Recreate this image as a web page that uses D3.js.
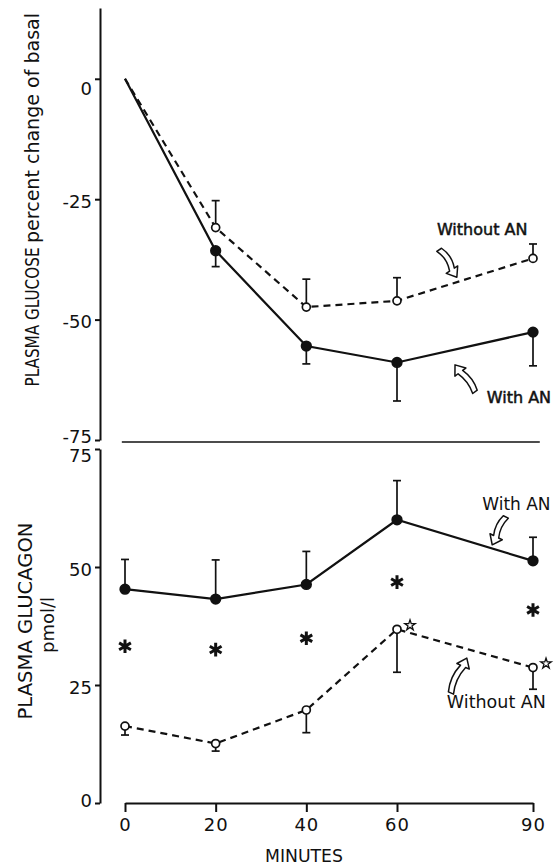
<!DOCTYPE html>
<html>
<head>
<meta charset="utf-8">
<script src="https://cdn.jsdelivr.net/npm/d3@7"></script>
<style>
  html, body { margin: 0; padding: 0; background: #fff; }
  svg text { font-family: 'DejaVu Sans', sans-serif; fill: #111; }
</style>
</head>
<body>
<div class="chart"></div>
<script>
// time points (minutes)
const minutes = [0, 20, 40, 60, 90];

// plasma glucose, percent change of basal
const glucoseWithout = [0, -30.9, -47.4, -46.1, -37.3];
const glucoseWithoutErr = [0, 5.6, 5.8, 4.8, 3.0];
const glucoseWith = [0, -35.7, -55.5, -58.9, -52.6];
const glucoseWithErr = [0, 3.3, 3.7, 8.0, 7.0];

// plasma glucagon, pmol/l
const glucagonWith = [45.3, 43.2, 46.3, 60.0, 51.3];
const glucagonWithErr = [6.3, 8.3, 7.0, 8.3, 5.0];
const glucagonWithout = [16.3, 12.6, 19.7, 36.8, 28.7];
const glucagonWithoutErr = [1.9, 1.6, 4.8, 9.1, 4.6];

// significance marks
const asteriskValues = [33.2, 32.5, 34.9, 46.8, 40.9];
const starMinutes = [60, 90];

const glucoseTicks = [0, -25, -50, -75];
const glucagonTicks = [0, 25, 50, 75];

const width = 555;
const height = 867;

const svg = d3
  .select('.chart')
  .append('svg')
  .attr('width', width)
  .attr('height', height);

const x = d3.scaleLinear().domain([0, 90]).range([125, 533]);
const yTop = d3.scaleLinear().domain([-75, 14.7]).range([440, 8]);
const yBot = d3.scaleLinear().domain([0, 75]).range([803, 449]);

// ---- axes ----
const styleAxis = (g, size) => {
  g.select('.domain').attr('stroke', '#111').attr('stroke-width', 2);
  g.selectAll('.tick line').attr('stroke', '#111').attr('stroke-width', 2);
  g.selectAll('.tick text')
    .style('font-family', "'DejaVu Sans', sans-serif")
    .style('font-size', size)
    .attr('fill', '#111');
};

svg
  .append('g')
  .attr('transform', 'translate(100,0)')
  .call(
    d3.axisLeft(yTop).tickValues(glucoseTicks).tickSize(5).tickSizeOuter(0)
      .tickFormat((d) => d)
  )
  .call((g) => styleAxis(g, '18px'))
  .call((g) =>
    g.selectAll('.tick text').attr('dy', (d) => (d === 0 ? '0.9em' : d === -75 ? '0.12em' : '0.45em'))
  );

svg
  .append('g')
  .attr('transform', 'translate(100,0)')
  .call(d3.axisLeft(yBot).tickValues(glucagonTicks).tickSize(5).tickSizeOuter(0))
  .call((g) => styleAxis(g, '18px'))
  .call((g) => g.selectAll('.tick text').attr('dy', (d) => (d === 75 ? '0.7em' : d === 0 ? '0.2em' : '0.45em')));

svg
  .append('g')
  .attr('transform', `translate(0,${yBot(0)})`)
  .call(d3.axisBottom(x).tickValues(minutes).tickSize(9).tickSizeOuter(0))
  .call((g) => styleAxis(g, '18px'))
  .call((g) => g.selectAll('.tick text').attr('dy', '0.9em').attr('letter-spacing', '1px'));

// separator between the panels
svg
  .append('line')
  .attr('x1', x(-0.7))
  .attr('x2', x(91.5))
  .attr('y1', 442)
  .attr('y2', 442)
  .attr('stroke', '#111')
  .attr('stroke-width', 1.6);

// ---- axis titles ----
const vText = (cx, cy, len, txt, size) =>
  svg
    .append('text')
    .attr('transform', `translate(${cx},${cy}) rotate(-90)`)
    .attr('text-anchor', 'middle')
    .attr('textLength', len)
    .attr('lengthAdjust', 'spacingAndGlyphs')
    .style('font-size', size)
    .text(txt);

vText(39, 317, 139, 'PLASMA GLUCOSE', '19px');
vText(39, 128, 230, 'percent change of basal', '19px');
vText(32, 621, 197, 'PLASMA GLUCAGON', '19px');
vText(54, 625, 56, 'pmol/l', '18px');

svg
  .append('text')
  .attr('x', 304)
  .attr('y', 862)
  .attr('text-anchor', 'middle')
  .attr('textLength', 78)
  .attr('lengthAdjust', 'spacingAndGlyphs')
  .style('font-size', '18px')
  .text('MINUTES');

// ---- series ----
const drawSeries = (y, values, errs, errDir, dashed, filled, skipFirst) => {
  const pts = minutes.map((m, i) => ({ m, v: values[i], e: errs[i] }));
  const line = d3.line().x((d) => x(d.m)).y((d) => y(d.v));
  svg
    .append('path')
    .datum(pts)
    .attr('d', line)
    .attr('fill', 'none')
    .attr('stroke', '#111')
    .attr('stroke-width', 2.2)
    .attr('stroke-dasharray', dashed ? '7,5' : null);

  const marks = pts.filter((d, i) => !(skipFirst && i === 0));
  const bars = svg.append('g').attr('stroke', '#111').attr('stroke-width', 1.7);
  marks.forEach((d) => {
    const end = y(d.v + errDir * d.e);
    bars.append('line').attr('x1', x(d.m)).attr('x2', x(d.m))
      .attr('y1', y(d.v)).attr('y2', end);
    bars.append('line').attr('x1', x(d.m) - 4).attr('x2', x(d.m) + 4)
      .attr('y1', end).attr('y2', end);
  });

  svg
    .append('g')
    .selectAll('circle')
    .data(marks)
    .join('circle')
    .attr('cx', (d) => x(d.m))
    .attr('cy', (d) => y(d.v))
    .attr('r', filled ? 4.8 : 4)
    .attr('fill', filled ? '#111' : '#fff')
    .attr('stroke', '#111')
    .attr('stroke-width', 1.7);
};

drawSeries(yTop, glucoseWithout, glucoseWithoutErr, 1, true, false, true);
drawSeries(yTop, glucoseWith, glucoseWithErr, -1, false, true, true);
drawSeries(yBot, glucagonWith, glucagonWithErr, 1, false, true, false);
drawSeries(yBot, glucagonWithout, glucagonWithoutErr, -1, true, false, false);

// asterisks between the glucagon curves
svg
  .append('g')
  .selectAll('path')
  .data(minutes.map((m, i) => ({ m, v: asteriskValues[i] })))
  .join('path')
  .attr('transform', (d) => `translate(${x(d.m)},${yBot(d.v)})`)
  .attr('d', d3.symbol(d3.symbolAsterisk, 130))
  .attr('fill', 'none')
  .attr('stroke', '#111')
  .attr('stroke-width', 3);

// small open stars beside the last two open circles
svg
  .append('g')
  .selectAll('path')
  .data(starMinutes.map((m) => ({ m, v: glucagonWithout[minutes.indexOf(m)] })))
  .join('path')
  .attr('transform', (d) => `translate(${x(d.m) + 13},${yBot(d.v) - 4})`)
  .attr('d', d3.symbol(d3.symbolStar, 34))
  .attr('fill', '#fff')
  .attr('stroke', '#111')
  .attr('stroke-width', 1.3);

// ---- labels and hollow arrows ----
const labels = [
  { y: yTop, m: 68.8, v: -32.4, size: 16, txt: 'Without AN', bold: true },
  { y: yTop, m: 79.8, v: -67.3, size: 16, txt: 'With AN', bold: true },
  { y: yBot, m: 78.8, v: 62.1, size: 17, txt: 'With AN', bold: false },
  { y: yBot, m: 71.0, v: 20.1, size: 17.5, txt: 'Without AN', bold: false },
];

labels.forEach((l) => {
  svg
    .append('text')
    .attr('x', x(l.m))
    .attr('y', l.y(l.v))
    .style('font-size', `${l.size}px`)
    .attr('stroke', l.bold ? '#111' : 'none')
    .attr('stroke-width', 0.5)
    .text(l.txt);
});

const arrows = [
  { y: yTop, from: [69.3, -35.5], to: [73.2, -41.2], bend: -5 },
  { y: yTop, from: [77.2, -65.0], to: [72.8, -59.4], bend: 4 },
  { y: yBot, from: [84.0, 60.6], to: [81.0, 54.7], bend: 4 },
  { y: yBot, from: [71.9, 23.3], to: [75.4, 30.7], bend: -5 },
];

const hollowArrow = (L, b) => {
  const w = 2.8;
  const hw = 6.8;
  const hl = 9;
  const s = L - hl;
  return `M0,${-w} Q${s / 2},${-w + b} ${s},${-w} L${s},${-hw} L${L},0 L${s},${hw} L${s},${w} Q${s / 2},${w + b} 0,${w} Z`;
};

arrows.forEach((a) => {
  const x0 = x(a.from[0]);
  const y0 = a.y(a.from[1]);
  const x1 = x(a.to[0]);
  const y1 = a.y(a.to[1]);
  const L = Math.hypot(x1 - x0, y1 - y0);
  const ang = (Math.atan2(y1 - y0, x1 - x0) * 180) / Math.PI;
  svg
    .append('path')
    .attr('transform', `translate(${x0},${y0}) rotate(${ang})`)
    .attr('d', hollowArrow(L, a.bend))
    .attr('fill', '#fff')
    .attr('stroke', '#111')
    .attr('stroke-width', 1.5)
    .attr('stroke-linejoin', 'round');
});
</script>
</body>
</html>
